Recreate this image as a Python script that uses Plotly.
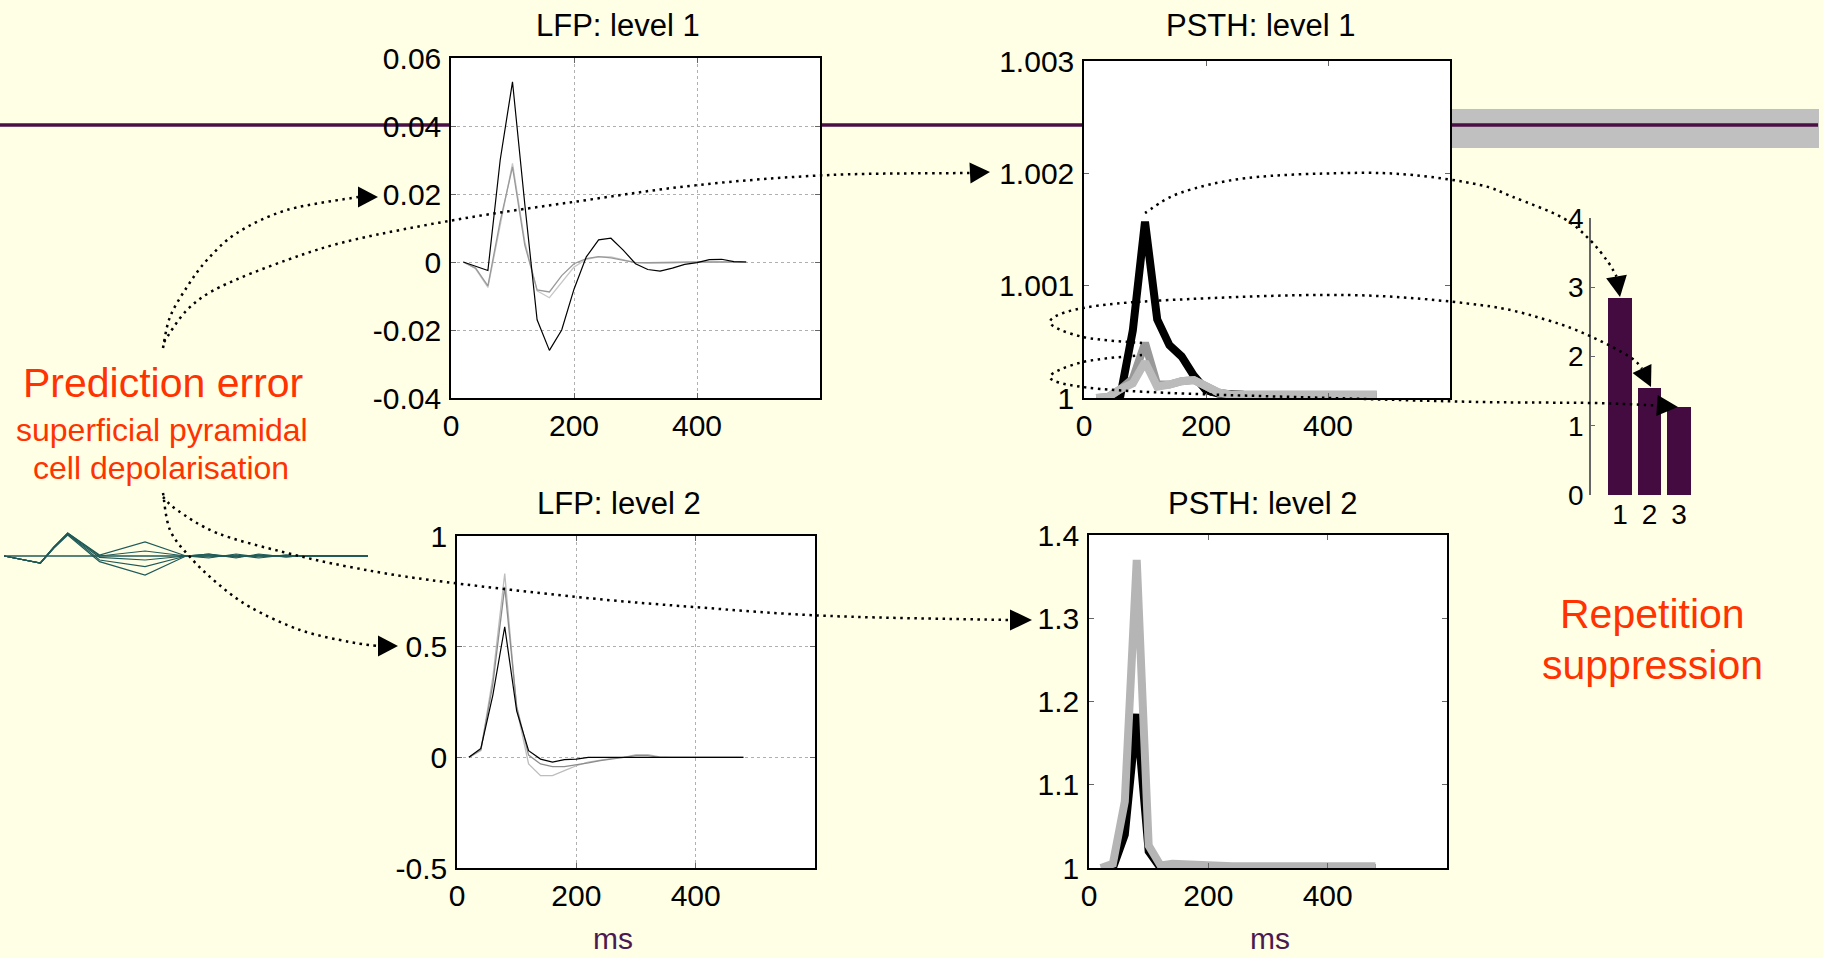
import plotly.graph_objects as go

W, H = 1823, 958

# ---------------- data ----------------
t_ms = [20, 40, 60, 80, 100, 120, 140, 160, 180, 200, 220, 240,
        260, 280, 300, 320, 340, 360, 380, 400, 420, 440, 460, 480]

lfp1_black = [0, -0.0012, -0.0025, 0.030, 0.053, 0.017, -0.017, -0.026, -0.020, -0.008, 0.0015, 0.0065,
              0.007, 0.0035, -0.0005, -0.0022, -0.0027, -0.0018, -0.0007, -0.0002, 0.0007, 0.0008, 0.0001, 0]
lfp1_grey = [0, -0.0018, -0.007, 0.012, 0.028, 0.005, -0.0082, -0.0088, -0.004, -0.0005, 0.001, 0.0016,
             0.0012, 0.0004, -0.0002, -0.0002, -0.0001, 0, 0, 0, 0, 0, 0, 0]
lfp1_light = [0, -0.002, -0.0075, 0.011, 0.029, 0.006, -0.0085, -0.0105, -0.006, -0.0015, 0.0008, 0.0015,
              0.0015, 0.0006, -0.0002, -0.0004, -0.0004, -0.0003, -0.0001, 0, 0, 0, 0, 0]

lfp2_black = [0, 0.04, 0.28, 0.59, 0.21, 0.03, -0.008, -0.022, -0.01, -0.008, 0, 0,
              0, 0, 0, 0, 0, 0, 0, 0, 0, 0, 0, 0]
lfp2_grey = [0, 0.035, 0.33, 0.77, 0.23, 0.01, -0.03, -0.042, -0.042, -0.035, -0.025, -0.015,
             -0.008, 0, 0.008, 0.008, 0, 0, 0, 0, 0, 0, 0, 0]
lfp2_light = [0, 0.03, 0.36, 0.83, 0.22, -0.03, -0.083, -0.083, -0.06, -0.038, -0.022, -0.012,
              -0.005, 0, 0.012, 0.012, 0.002, 0, 0, 0, 0, 0, 0, 0]

psth1_black = [1.0, 1.0, 1.00003, 1.0006, 1.00157, 1.0007, 1.00047, 1.00037, 1.0002, 1.00007, 1.00004, 1.00004,
               1.00003, 1.00001, 1.00001, 1.00001, 1.00001, 1.00001, 1.00001, 1.00001, 1.00001, 1.00001, 1.00001, 1.00001]
psth1_grey = [1.0, 1.00001, 1.00008, 1.00017, 1.00049, 1.00012, 1.00012, 1.00015, 1.00016, 1.0001, 1.00005, 1.00003,
              1.00003, 1.00003, 1.00003, 1.00003, 1.00003, 1.00003, 1.00003, 1.00003, 1.00003, 1.00003, 1.00003, 1.00003]
psth1_light = [1.0, 1.00001, 1.00008, 1.00013, 1.00032, 1.0001, 1.00012, 1.00015, 1.00016, 1.0001, 1.00005, 1.00003,
               1.00003, 1.00003, 1.00003, 1.00003, 1.00003, 1.00003, 1.00003, 1.00003, 1.00003, 1.00003, 1.00003, 1.00003]

psth2_black = [1.0, 1.0, 1.04, 1.185, 1.02, 1.0, 1.0, 1.0, 1.0, 1.0, 1.0, 1.0,
               1.0, 1.0, 1.0, 1.0, 1.0, 1.0, 1.0, 1.0, 1.0, 1.0, 1.0, 1.0]
psth2_grey = [1.0, 1.005, 1.08, 1.37, 1.027, 1.003, 1.005, 1.004, 1.003, 1.002, 1.002, 1.002,
              1.002, 1.002, 1.002, 1.002, 1.002, 1.002, 1.002, 1.002, 1.002, 1.002, 1.002, 1.002]

bar_cats = [1, 2, 3]
bar_vals = [2.84, 1.55, 1.27]

wave_t = [0, 40, 55, 70, 105, 155, 200, 225, 255, 280, 310, 325, 400]
wave_lines = [
    [0, -7, 9, 23, 1, 14, 0, 2, -2, 2, -1, 0, 0],
    [0, -7, 9, 23, 0, 5, 0, -2, 2, -1, 1, 0, 0],
    [0, -7, 9, 22, -1.3, -4, 0, 1, -1, 1, 0, 0, 0],
    [0, -7, 9, 22, -4, -10.7, 0, -1, 1, -2, 1, 0, 0],
    [0, -7, 8, 21, -5.7, -19, 0, 2, -1, 1, -1, 0, 0],
]
wave_base = [0, 0, 0, 0, 0, 0, 0, 0, 0, 0, 0, 0, 0]

lfp_xticks = [0, 200, 400]
lfp1_yticks = [-0.04, -0.02, 0, 0.02, 0.04, 0.06]
lfp1_ytext = ["-0.04", "-0.02", "0", "0.02", "0.04", "0.06"]
lfp2_yticks = [-0.5, 0, 0.5, 1]
lfp2_ytext = ["-0.5", "0", "0.5", "1"]
psth1_yticks = [1, 1.001, 1.002, 1.003]
psth1_ytext = ["1", "1.001", "1.002", "1.003"]
psth2_yticks = [1, 1.1, 1.2, 1.3, 1.4]
psth2_ytext = ["1", "1.1", "1.2", "1.3", "1.4"]
bar_yticks = [0, 1, 2, 3, 4]

# ---------------- helpers ----------------
FONT = "Liberation Sans, Arial, sans-serif"
BG = "#ffffe6"
RED = "#ff3300"
PURPLE = "#4a0f45"


def fx(x):
    return x / W


def fy(y):
    return 1 - y / H


def dom_x(a, b):
    return [fx(a), fx(b)]


def dom_y(top, bottom):
    return [fy(bottom), fy(top)]


def smooth_path(pts):
    p = [pts[0]] + pts + [pts[-1]]
    s = "M %.5f,%.5f" % (fx(pts[0][0]), fy(pts[0][1]))
    for i in range(1, len(p) - 2):
        p0, p1, p2, p3 = p[i - 1], p[i], p[i + 1], p[i + 2]
        c1 = (p1[0] + (p2[0] - p0[0]) / 6, p1[1] + (p2[1] - p0[1]) / 6)
        c2 = (p2[0] - (p3[0] - p1[0]) / 6, p2[1] - (p3[1] - p1[1]) / 6)
        s += " C %.5f,%.5f %.5f,%.5f %.5f,%.5f" % (fx(c1[0]), fy(c1[1]), fx(c2[0]), fy(c2[1]), fx(p2[0]), fy(p2[1]))
    return s


def head_path(base, tip, half=10.5):
    dx, dy = tip[0] - base[0], tip[1] - base[1]
    L = (dx * dx + dy * dy) ** 0.5
    nx, ny = -dy / L, dx / L
    a = (base[0] + nx * half, base[1] + ny * half)
    b = (base[0] - nx * half, base[1] - ny * half)
    return "M %.5f,%.5f L %.5f,%.5f L %.5f,%.5f Z" % (fx(a[0]), fy(a[1]), fx(tip[0]), fy(tip[1]), fx(b[0]), fy(b[1]))


fig = go.Figure()


def line(x, y, color, width, ax):
    fig.add_trace(go.Scatter(x=x, y=y, mode="lines", line=dict(color=color, width=width),
                             xaxis="x" + ax, yaxis="y" + ax, showlegend=False, hoverinfo="skip"))


# LFP level 1 (axis 1)
line(t_ms, lfp1_light, "#c8c8c8", 1.3, "")
line(t_ms, lfp1_grey, "#999999", 1.3, "")
line(t_ms, lfp1_black, "#000000", 1.2, "")
# PSTH level 1 (axis 2)
line(t_ms, psth1_black, "#000000", 8, "2")
line(t_ms, psth1_grey, "#999999", 8, "2")
line(t_ms, psth1_light, "#bbbbbb", 8, "2")
# LFP level 2 (axis 3)
line(t_ms, lfp2_light, "#bdbdbd", 1.3, "3")
line(t_ms, lfp2_grey, "#8c8c8c", 1.3, "3")
line(t_ms, lfp2_black, "#000000", 1.2, "3")
# PSTH level 2 (axis 4)
line(t_ms, psth2_black, "#000000", 8, "4")
line(t_ms, psth2_grey, "#b5b5b5", 8, "4")
# bars (axis 5)
fig.add_trace(go.Bar(x=bar_cats, y=bar_vals, marker=dict(color="#430b40", line=dict(width=0)),
                     width=0.81, xaxis="x5", yaxis="y5", showlegend=False, hoverinfo="skip"))
# waveform (axis 6)
line(wave_t, wave_base, "#1f5a57", 1.3, "6")
for wl in wave_lines:
    line(wave_t, wl, "#1f5a57", 1.2, "6")

tickfont = dict(family=FONT, size=30, color="black")


def box_axes(dx, dy, xr, yr, yt, ytt, grid):
    common = dict(showline=True, linecolor="black", linewidth=1.5, mirror="ticks",
                  ticks="inside", ticklen=5, tickcolor="#666", tickwidth=1,
                  showgrid=grid, gridcolor="#b0b0b0", griddash="3px,3px", gridwidth=1,
                  zeroline=False, tickfont=tickfont, fixedrange=True, automargin=False)
    xa = dict(domain=dx, range=xr, tickvals=lfp_xticks, ticktext=[str(v) for v in lfp_xticks], **common)
    ya = dict(domain=dy, range=yr, tickvals=yt, ticktext=ytt, ticklabelstandoff=2, **common)
    return xa, ya


BOX1 = (451, 820, 58, 398)
BOX2 = (1084, 1450, 61, 398)
BOX3 = (457, 815, 536, 868)
BOX4 = (1089, 1447, 535, 868)

x1, y1 = box_axes(dom_x(BOX1[0], BOX1[1]), dom_y(BOX1[2], BOX1[3]), [0, 600], [-0.04, 0.06], lfp1_yticks, lfp1_ytext, True)
x2, y2 = box_axes(dom_x(BOX2[0], BOX2[1]), dom_y(BOX2[2], BOX2[3]), [0, 600], [1, 1.003], psth1_yticks, psth1_ytext, False)
x3, y3 = box_axes(dom_x(BOX3[0], BOX3[1]), dom_y(BOX3[2], BOX3[3]), [0, 600], [-0.5, 1], lfp2_yticks, lfp2_ytext, True)
x4, y4 = box_axes(dom_x(BOX4[0], BOX4[1]), dom_y(BOX4[2], BOX4[3]), [0, 600], [1, 1.4], psth2_yticks, psth2_ytext, False)

x1.update(anchor="y"); y1.update(anchor="x")
x2.update(anchor="y2"); y2.update(anchor="x2")
x3.update(anchor="y3"); y3.update(anchor="x3")
x4.update(anchor="y4"); y4.update(anchor="x4")

x5 = dict(domain=dom_x(1591, 1700), range=[0.017, 3.71], anchor="y5", tickvals=bar_cats,
          ticktext=[str(c) for c in bar_cats], showline=False, ticks="", showgrid=False, zeroline=False,
          tickfont=dict(family=FONT, size=28, color="black"), fixedrange=True, automargin=False)
y5 = dict(domain=dom_y(218, 495), range=[0, 4], anchor="x5", tickvals=bar_yticks,
          ticktext=[str(v) for v in bar_yticks], showline=True, linecolor="#666", linewidth=1.5,
          ticks="inside", ticklen=4, tickcolor="#666", showgrid=False, zeroline=False,
          tickfont=dict(family=FONT, size=28, color="black"), fixedrange=True, automargin=False)
x6 = dict(domain=dom_x(4, 368), range=[0, 400], anchor="y6", visible=False, fixedrange=True, automargin=False)
y6 = dict(domain=dom_y(520, 590), range=[-34, 36], anchor="x6", visible=False, fixedrange=True, automargin=False)

shapes = []
# grey band + purple line (behind), then white plot boxes covering them
shapes.append(dict(type="rect", xref="paper", yref="paper", x0=fx(1300), x1=fx(1819), y0=fy(148), y1=fy(109),
                   fillcolor="#c0c0c0", line=dict(width=0), layer="below"))
shapes.append(dict(type="line", xref="paper", yref="paper", x0=0, x1=fx(1818), y0=fy(125), y1=fy(125),
                   line=dict(color=PURPLE, width=3.5), layer="below"))
for bx in (BOX1, BOX2, BOX3, BOX4):
    shapes.append(dict(type="rect", xref="paper", yref="paper", x0=fx(bx[0]), x1=fx(bx[1]),
                       y0=fy(bx[3]), y1=fy(bx[2]), fillcolor="white", line=dict(width=0), layer="below"))

arrows = [
    ([(163, 348), (170, 317), (187, 287), (207, 260), (237, 233), (287, 210), (358, 197)], (378, 197)),
    ([(164, 342), (187, 310), (220, 287), (287, 260), (353, 240), (460, 219), (580, 201), (698, 185), (830, 175), (970, 173)], (990, 172)),
    ([(1145, 213), (1180, 193), (1247, 178), (1347, 173), (1413, 175), (1480, 185), (1513, 197), (1563, 218), (1590, 240), (1608, 262), (1616.5, 276.5)], (1620, 297)),
    ([(1142, 343), (1083, 337), (1050, 322), (1083, 308), (1170, 300), (1347, 295), (1480, 305), (1547, 320), (1592, 337), (1630, 357), (1642, 368.5)], (1651, 387)),
    ([(1142, 355), (1083, 362), (1050, 377), (1083, 387), (1170, 393), (1330, 398), (1480, 402), (1592, 403), (1657, 405.5)], (1678, 407)),
    ([(163, 493), (170, 530), (190, 557), (217, 583), (250, 607), (300, 630), (350, 642), (378, 646)], (398, 646)),
    ([(163, 497), (177, 510), (217, 533), (283, 552), (350, 567), (430, 580), (577, 597), (694, 607), (830, 616), (1010, 620)], (1032, 620)),
]
for pts, tip in arrows:
    shapes.append(dict(type="path", xref="paper", yref="paper", path=smooth_path(pts),
                       line=dict(color="black", width=2.5, dash="2.5px,4.5px"), layer="above"))
    shapes.append(dict(type="path", xref="paper", yref="paper", path=head_path(pts[-1], tip),
                       fillcolor="black", line=dict(width=0), layer="above"))

annotations = []


def text(s, x, y, size, color, family=FONT):
    annotations.append(dict(text=s, x=fx(x), y=fy(y), xref="paper", yref="paper", showarrow=False,
                            xanchor="center", yanchor="middle", borderpad=0,
                            font=dict(family=family, size=size, color=color)))


text("LFP: level 1", 618, 25, 31, "black")
text("PSTH: level 1", 1261, 25, 31, "black")
text("LFP: level 2", 619, 503, 31, "black")
text("PSTH: level 2", 1263, 503, 31, "black")
text("ms", 613, 938, 30, "#4a1a50")
text("ms", 1270, 938, 30, "#4a1a50")
text("Prediction error", 163, 383, 41, RED)
text("superficial pyramidal", 162, 430, 32, RED)
text("cell depolarisation", 161, 468, 32, RED)
text("Repetition", 1652, 614, 41, RED)
text("suppression", 1652, 665, 41, RED)

fig.update_layout(
    template="none",
    width=W, height=H, autosize=False,
    margin=dict(l=0, r=0, t=0, b=0, pad=0, autoexpand=False),
    paper_bgcolor=BG, plot_bgcolor="rgba(0,0,0,0)",
    font=dict(family=FONT),
    xaxis=x1, yaxis=y1, xaxis2=x2, yaxis2=y2, xaxis3=x3, yaxis3=y3, xaxis4=x4, yaxis4=y4,
    xaxis5=x5, yaxis5=y5, xaxis6=x6, yaxis6=y6,
    shapes=shapes, annotations=annotations, showlegend=False, bargap=0,
)

fig.write_html("out.html")
